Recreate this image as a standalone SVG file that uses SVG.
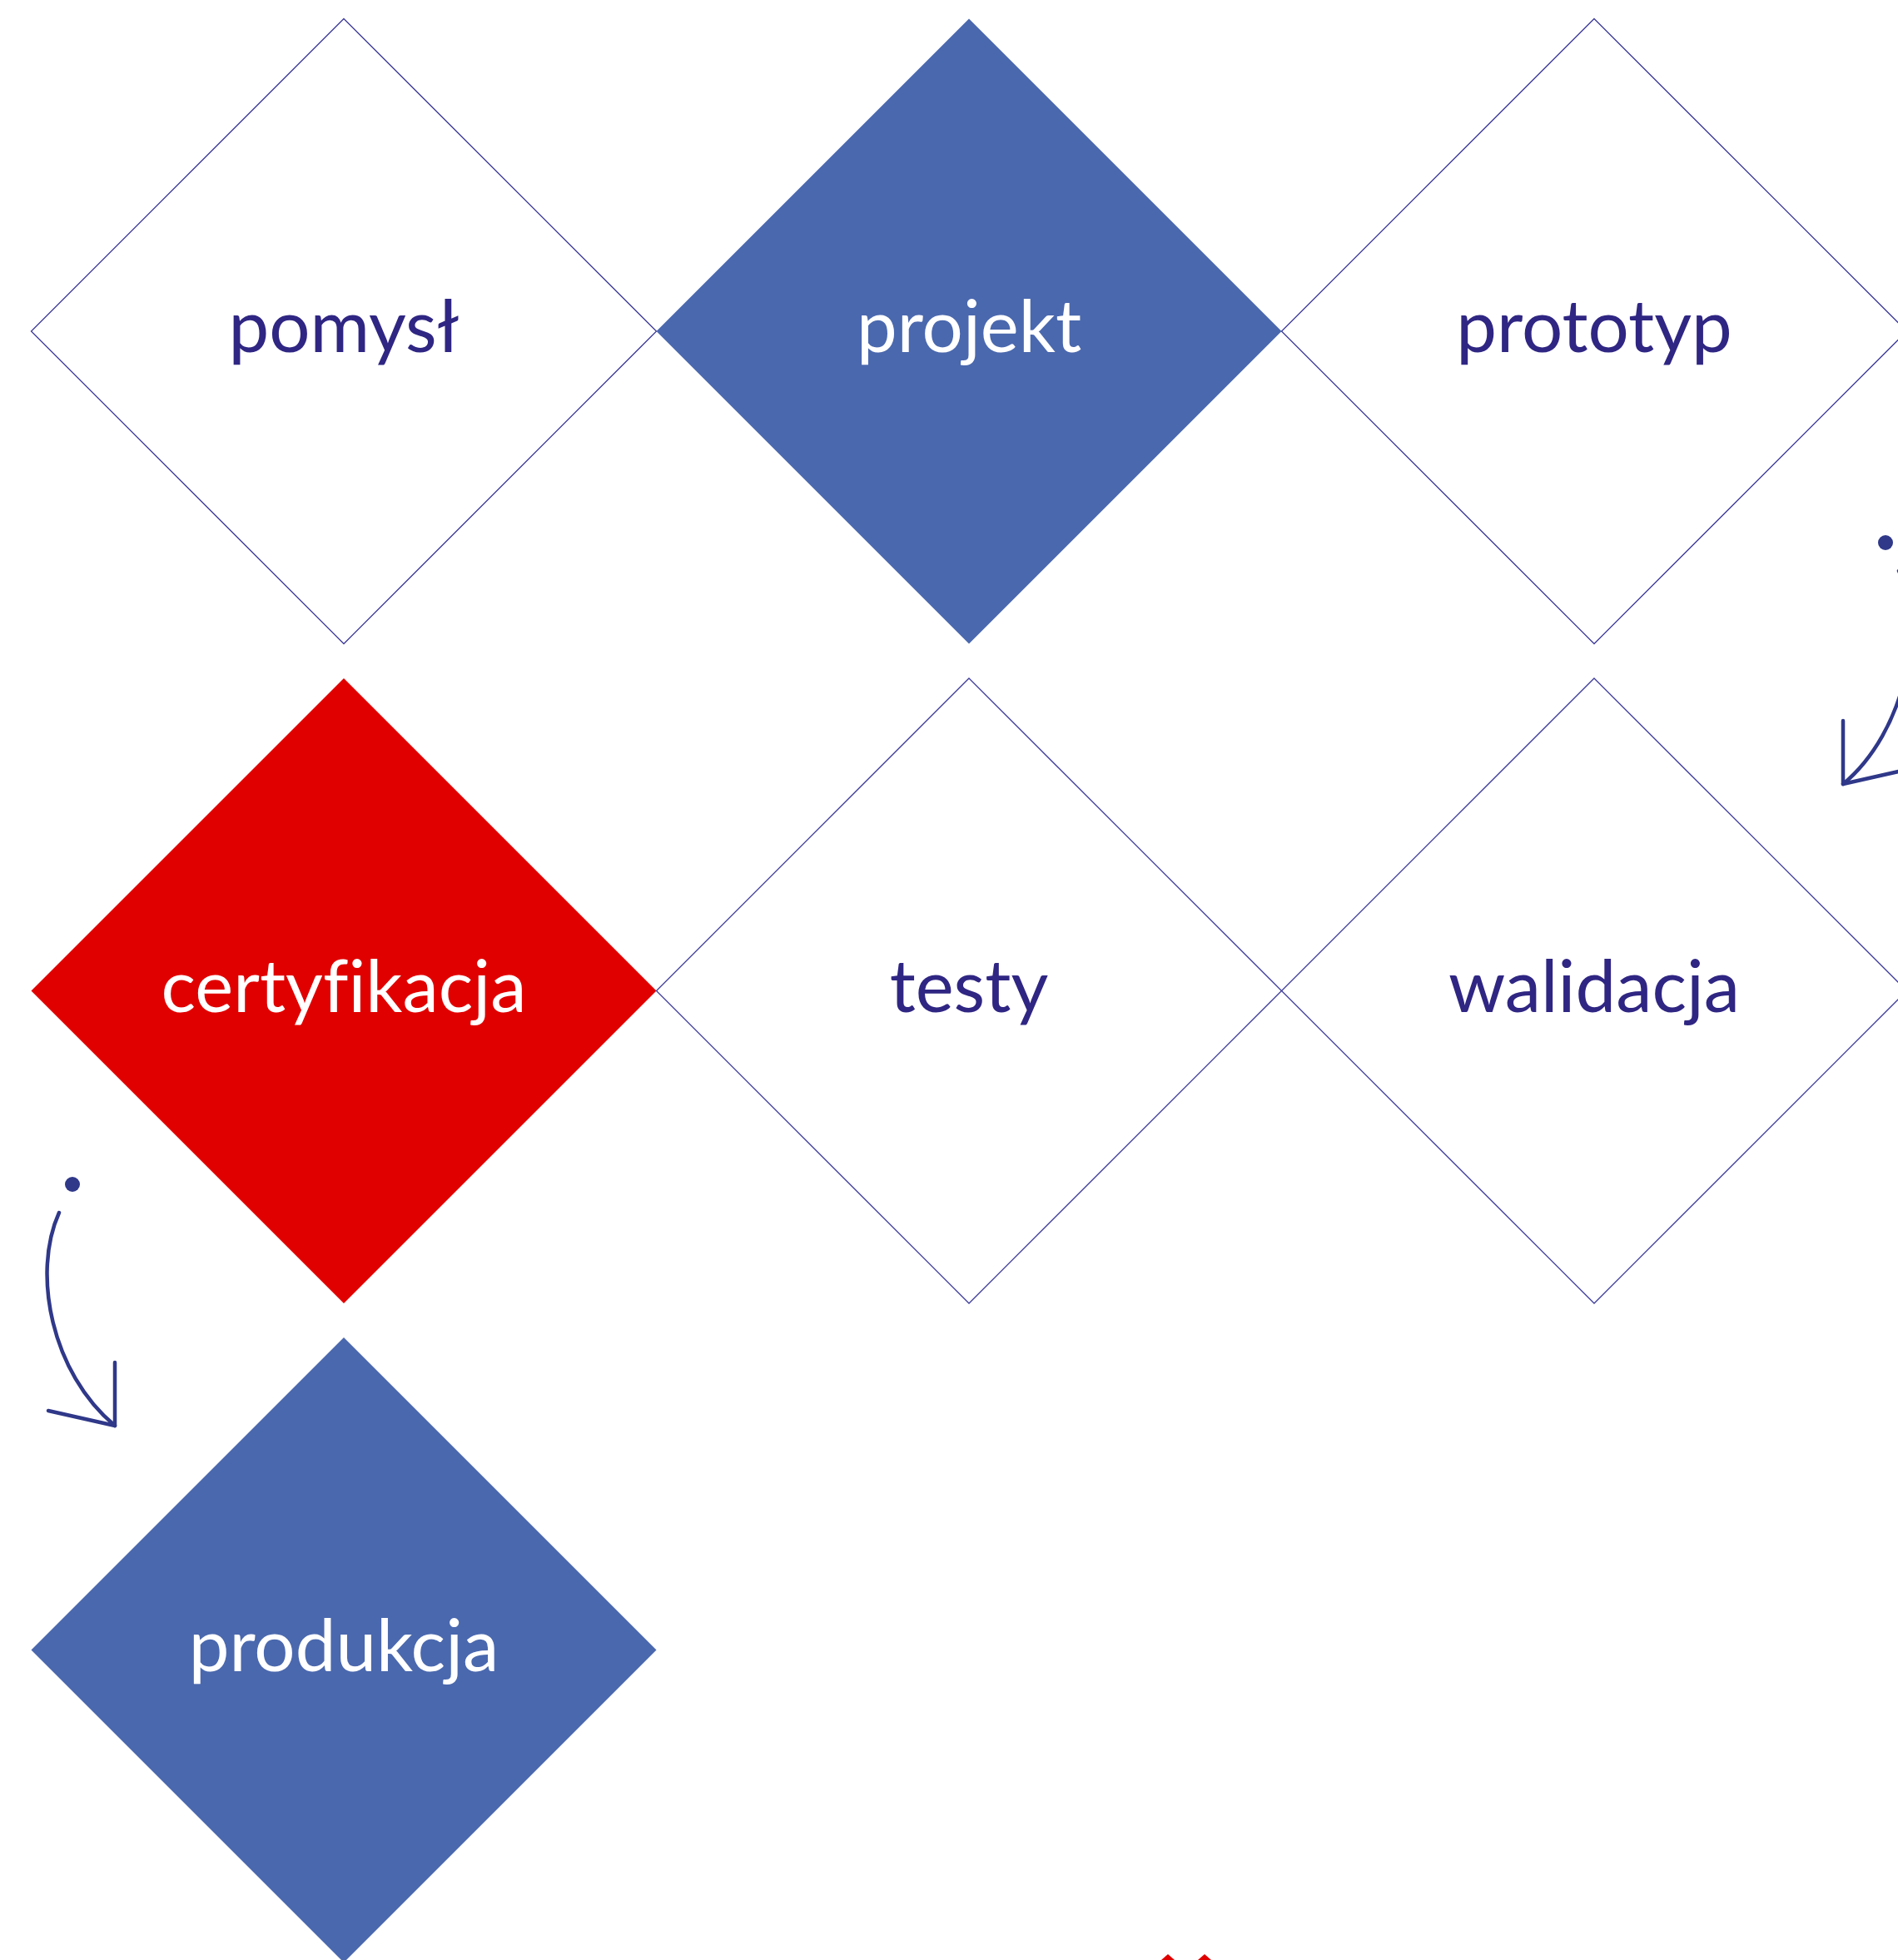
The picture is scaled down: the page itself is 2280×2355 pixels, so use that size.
<svg xmlns="http://www.w3.org/2000/svg" width="2280" height="2355" viewBox="0 0 2280 2355">
<style>
.outline{fill:#ffffff;stroke:#3d3a99;stroke-width:1.3}
.blue{fill:#4a68ae}
.red{fill:#e10000}
.lbl{font-family:"Lato","Noto Sans",sans-serif;font-size:87px;text-anchor:middle;font-variant-ligatures:none}
.dark{fill:#2f2683}
.light{fill:#ffffff}
.arr{fill:none;stroke:#2f3889;stroke-width:4.5;stroke-linecap:round;stroke-linejoin:round}
.dot{fill:#2f3889}
</style>
<rect width="2280" height="2355" fill="#ffffff"/>
<g id="pomysl">
<polygon class="outline" points="413,22.5 788.5,398 413,773.5 37.5,398"/>
<text class="lbl dark" x="413" y="423">pomysł</text>
</g>
<g id="projekt">
<polygon class="blue" points="1164,22.5 1539.5,398 1164,773.5 788.5,398"/>
<text class="lbl light" x="1164" y="423">projekt</text>
</g>
<g id="prototyp">
<polygon class="outline" points="1915,22.5 2290.5,398 1915,773.5 1539.5,398"/>
<text class="lbl dark" x="1915" y="423">prototyp</text>
</g>
<g id="certyfikacja">
<polygon class="red" points="413,815 788.5,1190.5 413,1566 37.5,1190.5"/>
<text class="lbl light" x="413" y="1216">certyfikacja</text>
</g>
<g id="testy">
<polygon class="outline" points="1164,815 1539.5,1190.5 1164,1566 788.5,1190.5"/>
<text class="lbl dark" x="1164" y="1216">testy</text>
</g>
<g id="walidacja">
<polygon class="outline" points="1915,815 2290.5,1190.5 1915,1566 1539.5,1190.5"/>
<text class="lbl dark" x="1915" y="1216">walidacja</text>
</g>
<g id="produkcja">
<polygon class="blue" points="413,1607 788.5,1982.5 413,2358 37.5,1982.5"/>
<text class="lbl light" x="413" y="2008">produkcja</text>
</g>
<g id="red-marks">
<polygon class="red" points="1403,2348 1411,2355 1395,2355"/>
<polygon class="red" points="1447,2348 1455,2355 1439,2355"/>
</g>
<g id="connectors">
<circle class="dot" cx="2265" cy="652" r="9"/>
<path class="arr" d="M2281,686 C2314,749 2290,879 2214,942"/>
<path class="arr" d="M2214,866 L2214,942 L2294,924"/>
<circle class="dot" cx="87" cy="1423" r="9"/>
<path class="arr" d="M71,1457 C38,1530 62,1650 138,1713"/>
<path class="arr" d="M138,1637 L138,1713 L58,1695"/>
</g>
</svg>
